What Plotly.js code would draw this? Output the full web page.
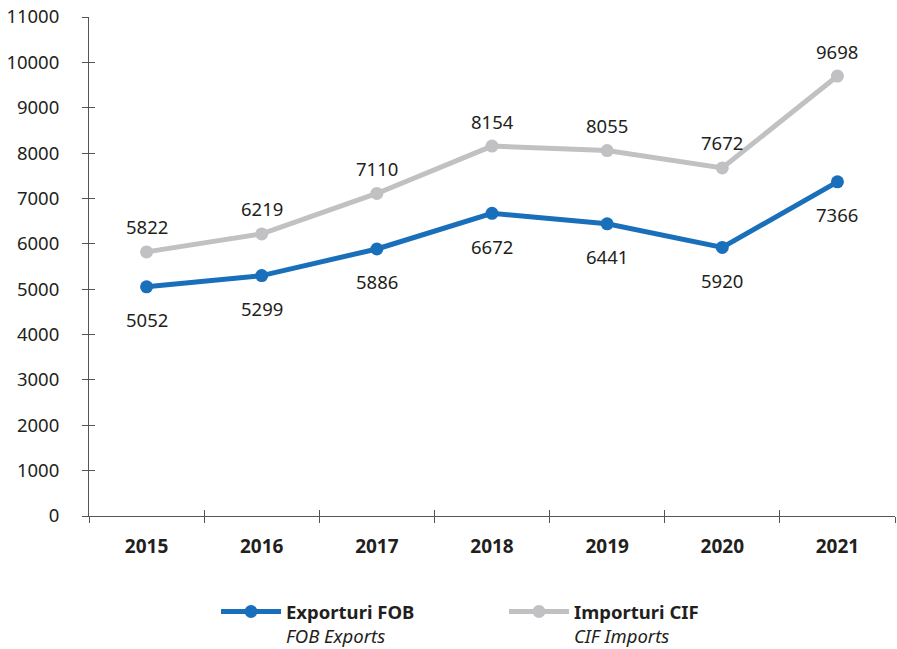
<!DOCTYPE html>
<html>
<head>
<meta charset="utf-8">
<script src="https://cdn.plot.ly/plotly-3.0.1.min.js"></script>
<style>html,body{margin:0;padding:0;background:#fff;}#chart{width:897px;height:649px;}</style>
</head>
<body>
<div id="chart"></div>
<script>
const years = ['2015', '2016', '2017', '2018', '2019', '2020', '2021'];
const exportsFOB = [5052, 5299, 5886, 6672, 6441, 5920, 7366];
const importsCIF = [5822, 6219, 7110, 8154, 8055, 7672, 9698];
const yTicks = [0, 1000, 2000, 3000, 4000, 5000, 6000, 7000, 8000, 9000, 10000, 11000];

const idx = years.map((_, i) => i);
const bounds = years.map((_, i) => i - 0.5).concat([years.length - 0.5]);
const font = 'Noto Sans, sans-serif';
const txt = '#231f20';
const axisCol = '#555555';
const fs = 18.5;

const traces = [
  {
    x: idx, y: exportsFOB, type: 'scatter', mode: 'lines+markers',
    name: '<b>Exporturi FOB</b><br><i>FOB Exports</i>',
    line: {color: '#1a6fba', width: 5},
    marker: {color: '#1a6fba', size: 13},
    cliponaxis: false
  },
  {
    x: idx, y: importsCIF, type: 'scatter', mode: 'lines+markers',
    name: '<b>Importuri CIF</b><br><i>CIF Imports</i>',
    line: {color: '#c1c1c4', width: 5},
    marker: {color: '#c1c1c4', size: 13},
    cliponaxis: false
  },
  {x: [null], y: [null], xaxis: 'x2', yaxis: 'y2', showlegend: false, hoverinfo: 'skip'},
  {x: [null], y: [null], xaxis: 'x3', yaxis: 'y', showlegend: false, hoverinfo: 'skip'}
];

const annotations = [];
idx.forEach(i => {
  annotations.push({x: i, y: exportsFOB[i], xref: 'x', yref: 'y', text: String(exportsFOB[i]),
    showarrow: false, yshift: -33, font: {family: font, size: fs, color: txt}});
  annotations.push({x: i, y: importsCIF[i], xref: 'x', yref: 'y', text: String(importsCIF[i]),
    showarrow: false, yshift: 25, font: {family: font, size: fs, color: txt}});
});

const layout = {
  width: 897, height: 649,
  margin: {l: 89, r: 2, t: 17, b: 133},
  paper_bgcolor: '#ffffff', plot_bgcolor: '#ffffff',
  font: {family: font, size: fs, color: txt},
  showlegend: true,
  annotations: annotations,
  legend: {
    orientation: 'h', xref: 'container', yref: 'container',
    x: 216 / 897, xanchor: 'left', y: 1 - 593 / 649, yanchor: 'top',
    itemwidth: 60, valign: 'top',
    font: {family: font, size: 18.5, color: txt},
    tracegroupgap: 0, entrywidth: 213
  },
  xaxis: {
    range: [-0.5, years.length - 0.5], tickmode: 'array',
    tickvals: idx, ticktext: years.map(y => '<b>' + y + '</b>'),
    showgrid: false, zeroline: false, showline: true, linecolor: axisCol, linewidth: 1,
    ticks: '', ticklabelstandoff: 13,
    tickfont: {family: font, size: 19, color: txt}
  },
  xaxis2: {
    overlaying: 'x', anchor: 'y', side: 'bottom', matches: 'x',
    tickmode: 'array', tickvals: bounds, showticklabels: false,
    ticks: 'outside', ticklen: 6, tickcolor: axisCol, tickwidth: 1,
    showgrid: false, zeroline: false, showline: false
  },
  xaxis3: {
    overlaying: 'x', anchor: 'y', side: 'bottom', matches: 'x',
    tickmode: 'array', tickvals: bounds, showticklabels: false,
    ticks: 'inside', ticklen: 6, tickcolor: axisCol, tickwidth: 1,
    showgrid: false, zeroline: false, showline: false
  },
  yaxis: {
    range: [0, 11000], tickmode: 'array', tickvals: yTicks, ticktext: yTicks.map(String),
    showgrid: false, zeroline: false, showline: true, linecolor: axisCol, linewidth: 1,
    ticks: 'outside', ticklen: 6, tickcolor: axisCol, tickwidth: 1,
    tickfont: {family: font, size: fs, color: txt}, ticklabelstandoff: 19
  },
  yaxis2: {
    overlaying: 'y', anchor: 'x', side: 'left', matches: 'y',
    tickmode: 'array', tickvals: yTicks, showticklabels: false,
    ticks: 'inside', ticklen: 6, tickcolor: axisCol, tickwidth: 1,
    showgrid: false, zeroline: false, showline: false
  }
};

Plotly.newPlot('chart', traces, layout, {displayModeBar: false, staticPlot: true});
</script>
</body>
</html>
